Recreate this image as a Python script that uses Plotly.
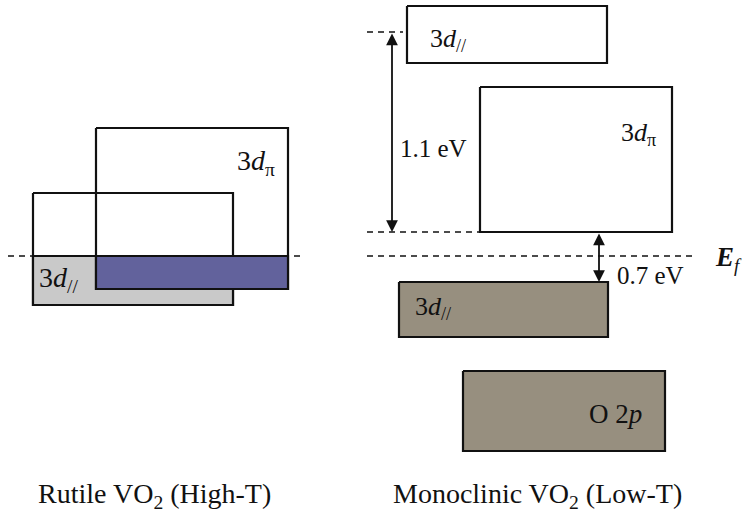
import plotly.graph_objects as go

# ---- schematic data (diagram units, y grows downward) ----
band_names  = ["rutile_dpar_box", "rutile_dpar_occ", "rutile_dpi_box", "rutile_dpi_occ",
               "mono_dpar_empty", "mono_dpi_empty", "mono_dpar_occ", "mono_o2p"]
band_left   = [33, 33, 96, 96, 407, 480, 399, 463]
band_right  = [233, 233, 288, 288, 607, 672, 608, 665]
band_top    = [193, 256, 128, 256, 6, 87, 282, 371]
band_bottom = [305, 305, 289, 289, 63, 232, 337, 451]
band_fill   = ["none", "#c9c9c9", "none", "#62629c", "none", "none", "#978f7f", "#978f7f"]

level_y     = [256, 256, 32, 232]
level_x0    = [8, 367, 367, 367]
level_x1    = [300, 695, 403, 480]

arrow_x     = [392, 599]
arrow_y0    = [32, 232]
arrow_y1    = [232, 282]

label_text  = ["3<i>d</i><sub>π</sub>", "3<i>d</i><sub>//</sub>", "3<i>d</i><sub>//</sub>",
               "3<i>d</i><sub>π</sub>", "1.1 eV", "0.7 eV", "<b><i>E</i></b><sub><i>f</i></sub>",
               "3<i>d</i><sub>//</sub>", "O 2<i>p</i>"]
label_x     = [256, 58, 448, 638, 433, 650, 728, 433, 615]
label_y     = [162, 279, 40, 134, 148, 275, 259, 308, 414]
label_size  = [28, 28, 26, 26, 25, 25, 27, 26, 27]

caption_text = ["Rutile VO<sub>2</sub> (High-T)", "Monoclinic VO<sub>2</sub> (Low-T)"]
caption_x    = [154, 537]
caption_y    = [495, 495]

fig = go.Figure()

for i in range(len(band_names)):
    xs = [band_left[i], band_right[i], band_right[i], band_left[i], band_left[i]]
    ys = [band_top[i], band_top[i], band_bottom[i], band_bottom[i], band_top[i]]
    filled = band_fill[i] != "none"
    fig.add_trace(go.Scatter(
        x=xs, y=ys, mode="lines",
        line=dict(color="#111111", width=2.2),
        fill="toself" if filled else "none",
        fillcolor=band_fill[i] if filled else None,
        hoverinfo="skip", showlegend=False, name=band_names[i]))

for y, x0, x1 in zip(level_y, level_x0, level_x1):
    fig.add_trace(go.Scatter(
        x=[x0, x1], y=[y, y], mode="lines",
        line=dict(color="#111111", width=1.6, dash="6px,5px"),
        hoverinfo="skip", showlegend=False))

for x, y0, y1 in zip(arrow_x, arrow_y0, arrow_y1):
    fig.add_annotation(x=x, y=y1, ax=x, ay=y0, xref="x", yref="y", axref="x", ayref="y",
                       text="", showarrow=True, arrowhead=2, arrowside="end+start",
                       arrowsize=1.3, arrowwidth=1.8, arrowcolor="#111111",
                       standoff=0, startstandoff=0)

for t, x, y, s in zip(label_text, label_x, label_y, label_size):
    fig.add_annotation(x=x, y=y, xref="x", yref="y", text=t, showarrow=False,
                       font=dict(family="Liberation Serif", size=s, color="#111111"),
                       xanchor="center", yanchor="middle")

for t, x, y in zip(caption_text, caption_x, caption_y):
    fig.add_annotation(x=x, y=y, xref="x", yref="y", text=t, showarrow=False,
                       font=dict(family="Liberation Serif", size=28, color="#111111"),
                       xanchor="center", yanchor="middle")

fig.update_xaxes(range=[0, 743], visible=False, fixedrange=True)
fig.update_yaxes(range=[521, 0], visible=False, fixedrange=True)
fig.update_layout(width=743, height=521, margin=dict(l=0, r=0, t=0, b=0),
                  paper_bgcolor="white", plot_bgcolor="white")

fig.write_html("out.html")
